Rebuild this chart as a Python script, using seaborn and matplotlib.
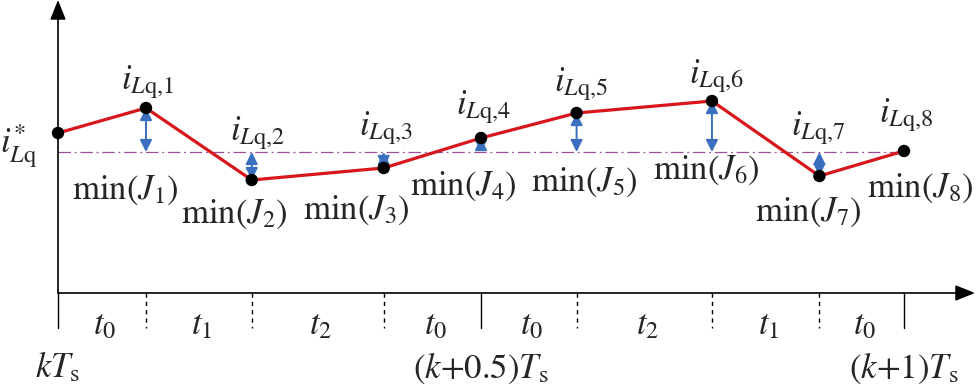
# Inductor current trajectory over one switching period
import numpy as np
import pandas as pd
import matplotlib
matplotlib.use("Agg")
import matplotlib.pyplot as plt
import seaborn as sns

# Data
# sampling instants as fraction of Ts
t_edges = [0.0, 0.104, 0.229, 0.385, 0.5, 0.613, 0.773, 0.900, 1.0]
# predicted current at each instant (relative to the reference, arbitrary units)
i_lq = [19, 44, -28, -16, 14, 39, 51, -24, 1]
i_ref = 0
seg_labels = ["t_0", "t_1", "t_2", "t_0", "t_0", "t_2", "t_1", "t_0"]
period_ticks = [0.0, 0.5, 1.0]
period_labels = [r"$kT_\mathrm{s}$", r"$(k\mathrm{+0.5})T_\mathrm{s}$", r"$(k\mathrm{+1})T_\mathrm{s}$"]

df = pd.DataFrame({"t": t_edges, "i": i_lq})

sns.set_theme(style="white")
plt.rcParams["font.family"] = ["Liberation Serif", "DejaVu Serif"]
plt.rcParams["mathtext.fontset"] = "stix"

fig = plt.figure(figsize=(9.79, 3.88), dpi=100)
ax = fig.add_axes([0, 0, 1, 1])
# 1 y-unit = 1 px, x scaled so Ts = 846 px
ax.set_xlim(-58 / 846, 921 / 846)
ax.set_ylim(-236, 152)
ax.set_axis_off()

red = "#D9161C"
blue = "#3A6EBE"
purple = "#9C4F9A"
fs = 25

y_axis = -141

# axes with arrows
ax.annotate("", xy=(0, 152), xytext=(0, y_axis),
            arrowprops=dict(arrowstyle="-|>,head_length=0.5,head_width=0.2", color="black",
                            lw=1.2, mutation_scale=24, shrinkA=0, shrinkB=0))
ax.annotate("", xy=(917 / 846, y_axis), xytext=(0, y_axis),
            arrowprops=dict(arrowstyle="-|>,head_length=0.5,head_width=0.2", color="black",
                            lw=1.2, mutation_scale=24, shrinkA=0, shrinkB=0))

# reference line
ax.plot([t_edges[0], t_edges[-1]], [i_ref, i_ref], color=purple, lw=0.9,
        dashes=(10, 3, 1.5, 3))

# double arrows to reference
for t, v in zip(t_edges[1:-1], i_lq[1:-1]):
    ax.annotate("", xy=(t, i_ref), xytext=(t, v),
                arrowprops=dict(arrowstyle="<|-|>,head_length=0.6,head_width=0.3",
                                color=blue, lw=1.4, mutation_scale=12,
                                shrinkA=0, shrinkB=0))

# trajectory
sns.lineplot(data=df, x="t", y="i", color=red, lw=2.3, ax=ax, zorder=3)
sns.scatterplot(data=df, x="t", y="i", color="black", s=80, edgecolor="none",
                ax=ax, zorder=4)
ax.set_xlabel("")
ax.set_ylabel("")

# labels of predicted points
lab_pos = [(147, 82), (257, 133), (386, 128), (483, 107), (581, 84), (716, 76),
           (818, 128), (906, 115)]
for n, (px, py) in enumerate(lab_pos, start=1):
    ax.text((px - 58) / 846, 152 - py, r"$i_{L\mathrm{q}{,}%d}$" % n, fontsize=fs,
            ha="center", va="center")

min_pos = [(125, 190), (234, 214), (356, 210), (463, 186), (584, 182), (706, 170),
           (808, 212), (920, 188)]
for n, (px, py) in enumerate(min_pos, start=1):
    ax.text((px - 58) / 846, 152 - py, r"$\mathrm{min}(J_%d)$" % n, fontsize=fs,
            ha="center", va="center")

ax.text(-39 / 846, 152 - 146, r"$i^{*}_{L\mathrm{q}}$", fontsize=fs,
        ha="center", va="center")

# ticks below axis
for t in t_edges:
    solid = t in period_ticks
    ax.plot([t, t], [y_axis, y_axis - 35], color="black", lw=1.0,
            linestyle="-" if solid else (0, (3, 3)))

for a, b, s in zip(t_edges[:-1], t_edges[1:], seg_labels):
    ax.text((a + b) / 2 + 3 / 846, y_axis - 33, "$%s$" % s, fontsize=fs,
            ha="center", va="center")

for t, s in zip(period_ticks, period_labels):
    ax.text(t, -216, s, fontsize=fs, ha="center", va="center")

fig.savefig("out.png", dpi=100)
